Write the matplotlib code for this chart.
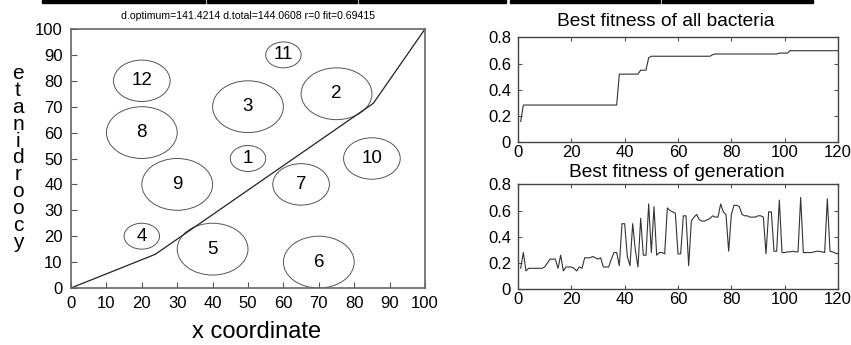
import matplotlib
matplotlib.use("Agg")
import matplotlib.pyplot as plt
from matplotlib.patches import Circle, Rectangle

plt.rcParams['font.family'] = ['Liberation Sans', 'DejaVu Sans']

# obstacles: id, centre, radius
ids = [1, 2, 3, 4, 5, 6, 7, 8, 9, 10, 11, 12]
cx = [50, 75, 50, 20, 40, 70, 65, 20, 30, 85, 60, 20]
cy = [50, 75, 70, 20, 15, 10, 40, 60, 40, 50, 90, 80]
rad = [5, 10, 10, 5, 10, 10, 8, 10, 10, 8, 5, 8]

# path found
path_x = [0, 23.8, 85.4, 100]
path_y = [0, 13.0, 71.3, 100]

gen = list(range(1, 121))
best_all = [0.16, 0.285, 0.285, 0.285, 0.285, 0.285, 0.285, 0.285, 0.285, 0.285,
            0.285, 0.285, 0.285, 0.285, 0.285, 0.285, 0.285, 0.285, 0.285, 0.285,
            0.285, 0.285, 0.285, 0.285, 0.285, 0.285, 0.285, 0.285, 0.285, 0.285,
            0.285, 0.285, 0.285, 0.285, 0.285, 0.285, 0.285, 0.52, 0.52, 0.52,
            0.52, 0.52, 0.52, 0.52, 0.52, 0.55, 0.55, 0.55, 0.645, 0.656,
            0.656, 0.656, 0.656, 0.656, 0.656, 0.656, 0.656, 0.656, 0.656, 0.656,
            0.656, 0.656, 0.656, 0.656, 0.656, 0.656, 0.656, 0.656, 0.656, 0.656,
            0.656, 0.656, 0.668, 0.673, 0.673, 0.673, 0.673, 0.673, 0.673, 0.673,
            0.673, 0.673, 0.673, 0.673, 0.673, 0.673, 0.673, 0.673, 0.673, 0.673,
            0.673, 0.673, 0.673, 0.673, 0.673, 0.673, 0.673, 0.68, 0.68, 0.68,
            0.68, 0.698, 0.698, 0.698, 0.698, 0.698, 0.698, 0.698, 0.698, 0.698,
            0.698, 0.698, 0.698, 0.698, 0.698, 0.698, 0.698, 0.698, 0.698, 0.698]
best_gen = [0.16, 0.28, 0.14, 0.16, 0.16, 0.16, 0.16, 0.16, 0.16, 0.17,
            0.20, 0.23, 0.23, 0.23, 0.16, 0.26, 0.14, 0.17, 0.17, 0.17,
            0.16, 0.14, 0.17, 0.16, 0.24, 0.24, 0.24, 0.25, 0.24, 0.23,
            0.24, 0.17, 0.17, 0.17, 0.23, 0.28, 0.28, 0.18, 0.50, 0.50,
            0.25, 0.18, 0.50, 0.30, 0.17, 0.54, 0.26, 0.26, 0.65, 0.28,
            0.63, 0.26, 0.28, 0.28, 0.27, 0.62, 0.60, 0.59, 0.58, 0.27,
            0.27, 0.56, 0.56, 0.18, 0.52, 0.55, 0.57, 0.53, 0.52, 0.52,
            0.53, 0.54, 0.56, 0.55, 0.55, 0.65, 0.59, 0.57, 0.29, 0.57,
            0.64, 0.64, 0.63, 0.57, 0.56, 0.56, 0.55, 0.55, 0.55, 0.56,
            0.56, 0.55, 0.27, 0.59, 0.59, 0.29, 0.29, 0.68, 0.28, 0.28,
            0.285, 0.285, 0.29, 0.285, 0.285, 0.70, 0.28, 0.28, 0.28, 0.28,
            0.285, 0.29, 0.29, 0.285, 0.28, 0.69, 0.29, 0.285, 0.275, 0.27]

title_main = "d.optimum=141.4214 d.total=144.0608 r=0 fit=0.69415"

fig = plt.figure(figsize=(8.51, 3.45), dpi=100)

# table border remains at the top
for x0, x1 in [(42, 205), (207, 357), (359, 506), (510, 660), (662, 813)]:
    fig.patches.append(Rectangle((x0 / 851, 342 / 345), (x1 - x0) / 851, 3 / 345,
                                 transform=fig.transFigure, color='black'))

ax = fig.add_axes([71 / 851, 57 / 345, 354 / 851, 259 / 345])
for i, x, y, r in zip(ids, cx, cy, rad):
    ax.add_patch(Circle((x, y), r, fill=False, ec='#555555', lw=0.7))
    ax.text(x, y, str(i), ha='center', va='center', fontsize=13.5)
ax.plot(path_x, path_y, color='#222222', lw=0.9)
ax.set_xlim(0, 100)
ax.set_ylim(0, 100)
ax.set_xticks(range(0, 101, 10))
ax.set_yticks(range(0, 101, 10))
ax.tick_params(direction='in', length=4, labelsize=12, pad=6, color='#555555')
for s in ax.spines.values():
    s.set_color('#666666')
    s.set_linewidth(1.2)
fig.text(248 / 851, 1 - 16 / 345, title_main, ha='center', va='center', fontsize=7.6)
fig.text(257 / 851, 1 - 332 / 345, "x coordinate", ha='center', va='center', fontsize=17)
fig.text(18 / 851, 1 - 158 / 345, "\n".join(reversed("ycoordinate")), ha='center',
         va='center', fontsize=15, linespacing=0.86)

ax1 = fig.add_axes([518 / 851, 202.5 / 345, 320 / 851, 105.2 / 345])
ax1.plot(gen, best_all, color='#333333', lw=0.8)
ax2 = fig.add_axes([518 / 851, 55.7 / 345, 320 / 851, 105 / 345])
ax2.plot(gen, best_gen, color='#333333', lw=0.8)
for a in (ax1, ax2):
    a.set_xlim(0, 120)
    a.set_ylim(0, 0.8)
    a.set_xticks(range(0, 121, 20))
    a.set_yticks([0, 0.2, 0.4, 0.6, 0.8])
    a.set_yticklabels(['0', '0.2', '0.4', '0.6', '0.8'])
    a.tick_params(direction='in', length=3, labelsize=12, pad=5, top=True, right=True,
                  color='#555555')
    a.tick_params(axis='x', pad=2)
    for s in a.spines.values():
        s.set_color('#444444')
        s.set_linewidth(1.0)
fig.text(666 / 851, 1 - 21 / 345, "Best fitness of all bacteria", ha='center', va='center',
         fontsize=13.8)
fig.text(677 / 851, 1 - 172 / 345, "Best fitness of generation", ha='center', va='center',
         fontsize=13.8)

fig.savefig("out.png", dpi=100)
